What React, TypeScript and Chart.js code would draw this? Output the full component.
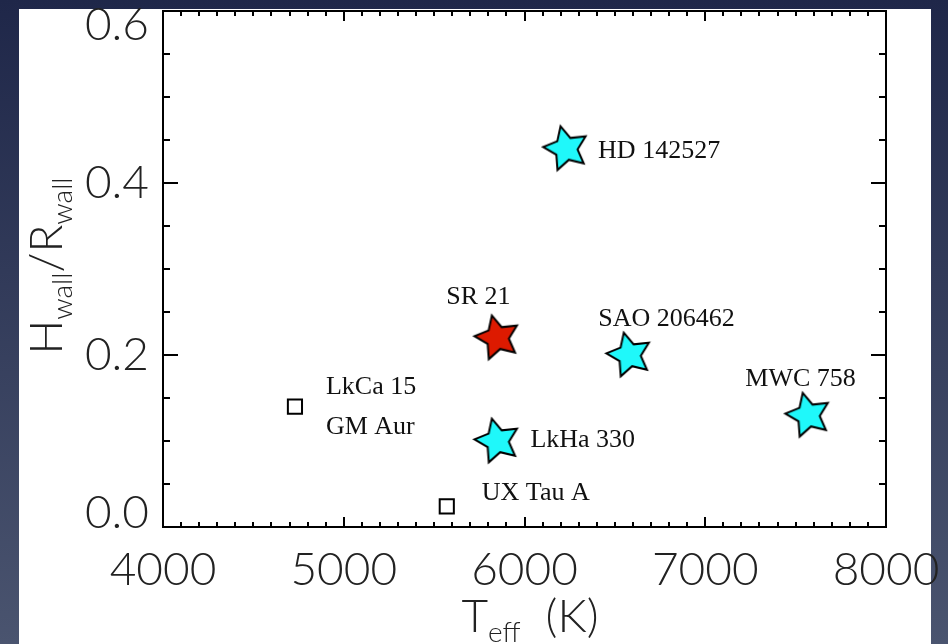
import React, { useEffect, useRef } from "react";
import { Chart, registerables } from "chart.js";

Chart.register(...registerables);

// ---- data ----
const cyanNames = ["HD 142527", "SAO 206462", "MWC 758", "LkHa 330"];
const cyanTeff = [6230, 6580, 7570, 5850];
const cyanRatio = [0.44, 0.2, 0.13, 0.1];

const redNames = ["SR 21"];
const redTeff = [5850];
const redRatio = [0.22];

const squareNames = ["LkCa 15|GM Aur", "UX Tau A"];
const squareTeff = [4730, 5570];
const squareRatio = [0.14, 0.024];

const xTicks = [4000, 5000, 6000, 7000, 8000];
const yTicks = [0.0, 0.2, 0.4, 0.6];

// ---- styling / placement (not data) ----
const TICK_FONT = "Lato, 'Liberation Sans Narrow', 'DejaVu Sans Condensed', sans-serif";
const LABEL_FONT = "26px 'Liberation Serif', 'DejaVu Serif', serif";
const labelPlacement: Record<string, { dx: number; dy: number; align: CanvasTextAlign }> = {
  "HD 142527": { dx: 32, dy: 3, align: "left" },
  "SAO 206462": { dx: -31, dy: -36, align: "left" },
  "MWC 758": { dx: -63, dy: -36, align: "left" },
  "LkHa 330": { dx: 33, dy: -1, align: "left" },
  "SR 21": { dx: -19, dy: -41, align: "center" },
  "LkCa 15": { dx: 31, dy: -19, align: "left" },
  "GM Aur": { dx: 31, dy: 21, align: "left" },
  "UX Tau A": { dx: 35, dy: -13, align: "left" },
};

function makeStar(fill: string): HTMLCanvasElement {
  const R = 23;
  const r = 11.5;
  const size = 2 * R + 6;
  const c = document.createElement("canvas");
  c.width = size;
  c.height = size;
  const g = c.getContext("2d")!;
  const cx = size / 2;
  const cy = size / 2;
  const base = (176 * Math.PI) / 180;
  g.beginPath();
  for (let i = 0; i < 10; i++) {
    const a = base + (i * Math.PI) / 5;
    const rad = i % 2 === 0 ? R : r;
    const px = cx + rad * Math.cos(a);
    const py = cy - rad * Math.sin(a);
    if (i === 0) g.moveTo(px, py);
    else g.lineTo(px, py);
  }
  g.closePath();
  g.fillStyle = fill;
  g.fill();
  g.lineWidth = 2;
  g.lineJoin = "miter";
  g.strokeStyle = "#000";
  g.stroke();
  return c;
}

const backgroundPlugin = {
  id: "bgPanel",
  beforeDraw(chart: any) {
    const { ctx, width, height } = chart;
    ctx.save();
    const grad = ctx.createLinearGradient(0, 0, 0, height);
    grad.addColorStop(0, "#1f2749");
    grad.addColorStop(1, "#4a546f");
    ctx.fillStyle = grad;
    ctx.fillRect(0, 0, width, height);
    ctx.fillStyle = "#ffffff";
    ctx.fillRect(19, 9, 912, height - 9);
    ctx.restore();
  },
};

const framePlugin = {
  id: "frameTicks",
  beforeDatasetsDraw(chart: any) {
    const { ctx, chartArea: a } = chart;
    const xs = chart.scales.x;
    const ys = chart.scales.y;
    ctx.save();
    ctx.strokeStyle = "#000";
    ctx.lineWidth = 2;
    ctx.strokeRect(a.left, a.top, a.right - a.left, a.bottom - a.top);
    ctx.beginPath();
    for (let i = 0; i <= 40; i++) {
      const v = xs.min + i * 100;
      const px = Math.round(xs.getPixelForValue(v));
      const len = i % 10 === 0 ? 10 : 5;
      ctx.moveTo(px, a.bottom);
      ctx.lineTo(px, a.bottom - len);
      ctx.moveTo(px, a.top);
      ctx.lineTo(px, a.top + len);
    }
    for (let i = 0; i <= 12; i++) {
      const v = ys.min + i * 0.05;
      const py = Math.round(ys.getPixelForValue(v));
      const len = i % 4 === 0 ? 15 : 7;
      ctx.moveTo(a.left, py);
      ctx.lineTo(a.left + len, py);
      ctx.moveTo(a.right, py);
      ctx.lineTo(a.right - len, py);
    }
    ctx.stroke();
    ctx.restore();
  },
};

const labelsPlugin = {
  id: "pointLabels",
  afterDatasetsDraw(chart: any) {
    const { ctx } = chart;
    ctx.save();
    ctx.font = LABEL_FONT;
    ctx.fillStyle = "#111";
    ctx.textBaseline = "middle";
    chart.data.datasets.forEach((ds: any, di: number) => {
      const meta = chart.getDatasetMeta(di);
      ds.names.forEach((nm: string, i: number) => {
        const el = meta.data[i];
        nm.split("|").forEach((n: string) => {
          const p = labelPlacement[n];
          if (!p) return;
          ctx.textAlign = p.align;
          ctx.fillText(n, el.x + p.dx, el.y + p.dy);
        });
      });
    });
    ctx.restore();
  },
};

function drawSubText(
  ctx: CanvasRenderingContext2D,
  parts: { t: string; sub: boolean }[],
  cx: number,
  cy: number,
  big: number,
  small: number
) {
  const fontOf = (sub: boolean) => `300 ${sub ? small : big}px ${TICK_FONT}`;
  let total = 0;
  const widths = parts.map((p) => {
    ctx.font = fontOf(p.sub);
    const w = ctx.measureText(p.t).width;
    total += w;
    return w;
  });
  let x = cx - total / 2;
  ctx.textAlign = "left";
  ctx.textBaseline = "alphabetic";
  parts.forEach((p, i) => {
    ctx.font = fontOf(p.sub);
    ctx.fillText(p.t, x, cy + (p.sub ? big * 0.22 : 0));
    x += widths[i];
  });
}

const titlesPlugin = {
  id: "axisTitles",
  afterDraw(chart: any) {
    const { ctx } = chart;
    ctx.save();
    ctx.fillStyle = "#222";
    drawSubText(
      ctx,
      [
        { t: "T", sub: false },
        { t: "eff", sub: true },
        { t: "  (K)", sub: false },
      ],
      530,
      632,
      46,
      28
    );
    ctx.translate(62, 266);
    ctx.rotate(-Math.PI / 2);
    drawSubText(
      ctx,
      [
        { t: "H", sub: false },
        { t: "wall", sub: true },
        { t: "/", sub: false },
        { t: "R", sub: false },
        { t: "wall", sub: true },
      ],
      0,
      0,
      46,
      28
    );
    ctx.restore();
  },
};

const zeroPad = (s: any) => {
  s.paddingLeft = 0;
  s.paddingRight = 0;
  s.paddingTop = 0;
  s.paddingBottom = 0;
};

export default function App() {
  const ref = useRef<HTMLCanvasElement | null>(null);
  useEffect(() => {
    if (!ref.current) return;
    const cyanStar = makeStar("#1ff8fa");
    const redStar = makeStar("#dd1a00");
    const toPts = (xs: number[], ys: number[]) => xs.map((x, i) => ({ x, y: ys[i] }));
    const yMin = yTicks[0];
    const yMax = yTicks[yTicks.length - 1];
    const chart = new Chart(ref.current, {
      type: "scatter",
      data: {
        datasets: [
          {
            label: "open squares",
            names: squareNames,
            data: toPts(squareTeff, squareRatio),
            pointStyle: "rect",
            pointRadius: 10,
            pointBorderWidth: 2,
            pointBorderColor: "#000",
            pointBackgroundColor: "rgba(255,255,255,0)",
          } as any,
          {
            label: "cyan stars",
            names: cyanNames,
            data: toPts(cyanTeff, cyanRatio),
            pointStyle: cyanStar,
            pointRadius: 23,
          } as any,
          {
            label: "SR 21",
            names: redNames,
            data: toPts(redTeff, redRatio),
            pointStyle: redStar,
            pointRadius: 23,
          } as any,
        ],
      },
      options: {
        animation: false,
        responsive: false,
        devicePixelRatio: 1,
        layout: { autoPadding: false, padding: { top: 11, right: 62, left: 0, bottom: 0 } },
        plugins: { legend: { display: false }, tooltip: { enabled: false } },
        scales: {
          x: {
            type: "linear",
            min: xTicks[0],
            max: xTicks[xTicks.length - 1],
            afterBuildTicks: (s: any) => {
              s.ticks = xTicks.map((v) => ({ value: v }));
            },
            ticks: {
              font: { family: TICK_FONT, size: 46, weight: "300" as any },
              color: "#222",
              padding: 16,
              maxRotation: 0,
              callback: (v: any) => String(v),
            },
            grid: { display: false, drawTicks: false },
            border: { display: false },
            afterFit: (s: any) => {
              s.height = 117;
              zeroPad(s);
            },
          },
          y: {
            type: "linear",
            min: yMin,
            max: yMax,
            afterBuildTicks: (s: any) => {
              s.ticks = yTicks.map((v) => ({ value: v }));
            },
            ticks: {
              font: { family: TICK_FONT, size: 46, weight: "300" as any, lineHeight: 0.6 },
              color: "#222",
              padding: 14,
              callback: (v: any) => {
                const t = Number(v).toFixed(1);
                // end labels are nudged inside the frame, as in the original plot
                if (Number(v) === yMax) return ["", t];
                if (Number(v) === yMin) return [t, ""];
                return t;
              },
            },
            grid: { display: false, drawTicks: false },
            border: { display: false },
            afterFit: (s: any) => {
              s.width = 163;
              zeroPad(s);
            },
          },
        },
      },
      plugins: [backgroundPlugin, framePlugin, labelsPlugin, titlesPlugin],
    } as any);
    return () => chart.destroy();
  }, []);
  return (
    <div style={{ position: "fixed", left: 0, top: 0, width: 948, height: 644 }}>
      <canvas ref={ref} width={948} height={644} style={{ display: "block" }} />
    </div>
  );
}
